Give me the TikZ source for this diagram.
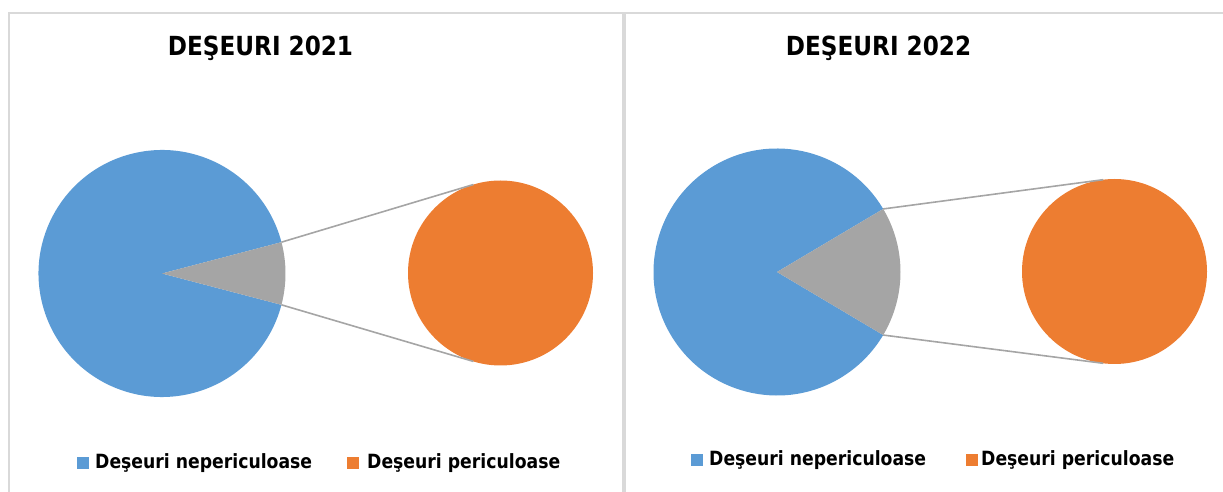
\documentclass[tikz,border=0pt]{standalone}
\usepackage{fontspec}
\newfontfamily\chartfont[FakeStretch=0.88]{DejaVu Sans}
\definecolor{pieblue}{HTML}{5B9BD5}
\definecolor{pieorange}{HTML}{ED7D31}
\definecolor{piegray}{HTML}{A5A5A5}
\definecolor{framegray}{HTML}{D9D9D9}
\begin{document}
\begin{tikzpicture}[x=1pt,y=1pt,
  charttitle/.style={font=\chartfont\bfseries\fontsize{26.3}{30}\selectfont, anchor=base, inner sep=0},
  legtext/.style={font=\chartfont\bfseries\fontsize{19.6}{23}\selectfont, anchor=base west, inner sep=0},
  legkey/.style={minimum width=12pt, minimum height=12pt, inner sep=0, outer sep=0, draw=none},
  secondpie/.style={circle, fill=pieorange, minimum size=185pt, inner sep=0, outer sep=0},
  leader/.style={draw=piegray, line width=1.6pt},
  frameline/.style={draw=framegray, line width=2pt}
]
\useasboundingbox (0,0) rectangle (1223,492);
% frames
\draw[frameline] (9,0) -- (9,478.5) -- (1223,478.5);
\draw[frameline, line width=4pt] (624,0) -- (624,478.5);

% ---------- chart 2021 ----------
\node[charttitle] (t1) at (260.5,436) {DEŞEURI 2021};
\coordinate (c1) at (162,218.5);
\fill[pieblue] (c1) -- ++(14.7:123.5) arc[start angle=14.7, end angle=345.3, radius=123.5] -- cycle;
\fill[piegray] (c1) -- ++(-14.7:123.5) coordinate (w1b) arc[start angle=-14.7, end angle=14.7, radius=123.5] coordinate (w1a) -- cycle;
\node[secondpie] (o1) at (500.5,219) {};
\draw[leader] (w1a) -- (o1.107.2);
\draw[leader] (w1b) -- (o1.-107.2);
\node[legkey, fill=pieblue] (k1a) at (83,28.5) {};
\node[legtext] (l1a) at (95,23) {Deşeuri nepericuloase};
\node[legkey, fill=pieorange] (k1b) at (353,28.5) {};
\node[legtext] (l1b) at (367,23) {Deşeuri periculoase};

% ---------- chart 2022 ----------
\node[charttitle] (t2) at (878.5,436) {DEŞEURI 2022};
\coordinate (c2) at (777,220);
\fill[pieblue] (c2) -- ++(30.7:123.5) arc[start angle=30.7, end angle=329.3, radius=123.5] -- cycle;
\fill[piegray] (c2) -- ++(-30.7:123.5) coordinate (w2b) arc[start angle=-30.7, end angle=30.7, radius=123.5] coordinate (w2a) -- cycle;
\node[secondpie] (o2) at (1114.5,220.5) {};
\draw[leader] (w2a) -- (o2.97.8);
\draw[leader] (w2b) -- (o2.-97.8);
\node[legkey, fill=pieblue] (k2a) at (697,32) {};
\node[legtext] (l2a) at (709,26) {Deşeuri nepericuloase};
\node[legkey, fill=pieorange] (k2b) at (972,32) {};
\node[legtext] (l2b) at (981,26) {Deşeuri periculoase};
\end{tikzpicture}
\end{document}
